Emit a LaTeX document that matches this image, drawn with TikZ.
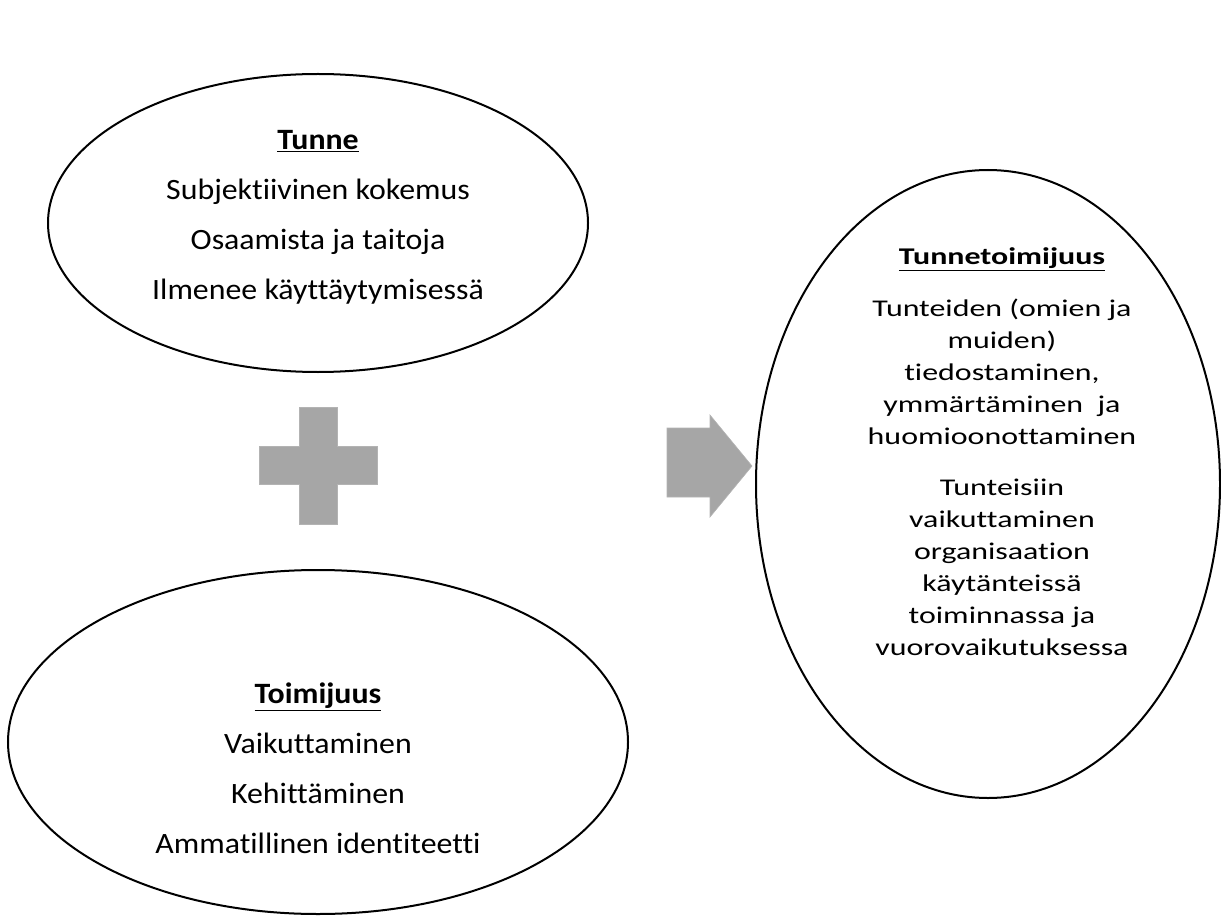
\documentclass[tikz,border=0pt]{standalone}
\usepackage{fontspec}
\setmainfont{Carlito}[Ligatures=NoCommon]
\newfontfamily\leftfont[FakeStretch=1.08,Ligatures=NoCommon]{Carlito}
\newfontfamily\rightfont[FakeStretch=1.33,Ligatures=NoCommon]{Carlito}
\usetikzlibrary{shapes.geometric}
\definecolor{shapegray}{RGB}{166,166,166}
\begin{document}
\begin{tikzpicture}[x=1pt,y=-1pt]
\tikzset{
  oval/.style={draw=black, ellipse, line width=2pt, inner sep=0pt},
  lefttext/.style={align=center, font=\leftfont\fontsize{29.5}{50}\selectfont},
  righttext/.style={align=center, font=\rightfont\fontsize{24}{32}\selectfont},
  graysign/.style={fill=shapegray, draw=shapegray!85, line width=0.6pt}
}
\useasboundingbox (0,0) rectangle (1221,920);
% ellipses
\node[oval, minimum width=540pt, minimum height=298pt] (tunne) at (318,223) {};
\node[oval, minimum width=620pt, minimum height=344pt] (toimijuus) at (318,742) {};
\node[oval, minimum width=464pt, minimum height=628pt] (tunnetoimijuus) at (988,484) {};
% texts
\node[lefttext] (tunnetext) at (318,217.5) {\underline{\textbf{Tunne}}\\Subjektiivinen kokemus\\Osaamista ja taitoja\\Ilmenee käyttäytymisessä};
\node[lefttext] (toimtext) at (318,768.5) {\underline{\textbf{Toimijuus}}\\Vaikuttaminen\\Kehittäminen\\Ammatillinen identiteetti};
\node[righttext] (tttext) at (1002,452) {\underline{\textbf{Tunnetoimijuus}}\\[20pt]Tunteiden (omien ja\\muiden)\\tiedostaminen,\\ymmärtäminen\ \ ja\\huomioonottaminen\\[19pt]Tunteisiin\\vaikuttaminen\\organisaation\\käytänteissä\\toiminnassa ja\\vuorovaikutuksessa};
% plus sign
\fill[graysign] (299,407) -- (337,407) -- (337,446) -- (377,446) -- (377,484) -- (337,484) -- (337,524) -- (299,524) -- (299,484) -- (259,484) -- (259,446) -- (299,446) -- cycle;
% arrow
\fill[graysign] (667,428) -- (710,428) -- (710,415) -- (752,466) -- (710,517) -- (710,497) -- (667,497) -- cycle;
\end{tikzpicture}
\end{document}
